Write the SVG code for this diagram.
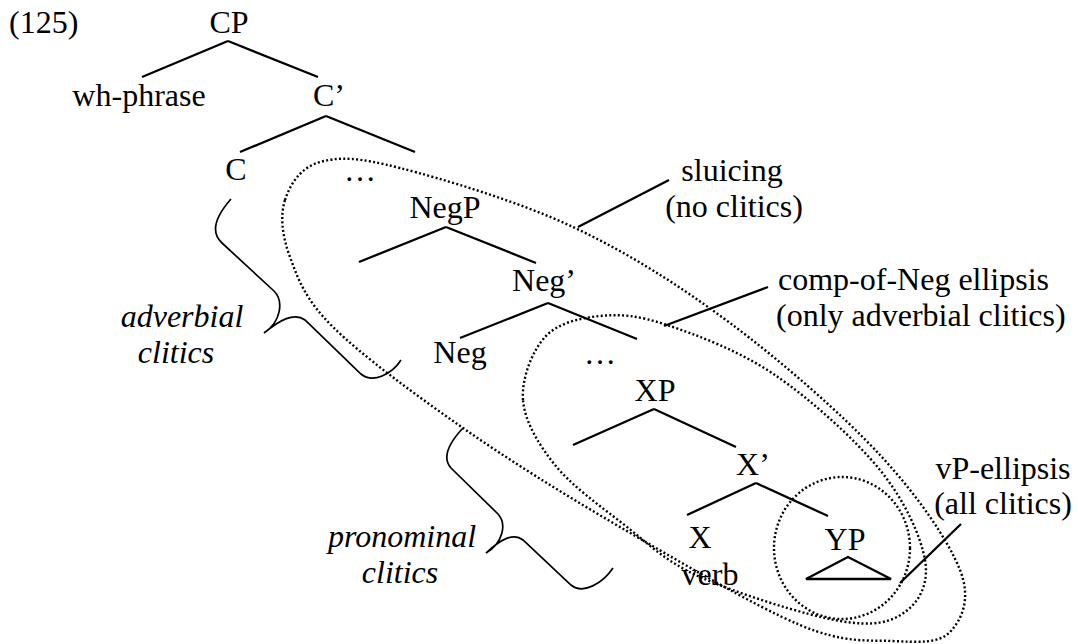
<svg xmlns="http://www.w3.org/2000/svg" width="1078" height="644" viewBox="0 0 1078 644">
<style>
  text { font-family: "Liberation Serif", "Times New Roman", serif; font-size: 32px; fill: #000; }
  .c { text-anchor: middle; }
  .it { font-style: italic; }
  .edge { stroke: #000; stroke-width: 2.3; fill: none; stroke-linecap: butt; }
  .brace { stroke: #000; stroke-width: 1.7; fill: none; }
  .dot { stroke: #000; stroke-width: 2.4; fill: none; stroke-dasharray: 2 2.3; }
</style>
<rect width="1078" height="644" fill="#fff"/>

<g id="label-125"><text x="9" y="33">(125)</text></g>

<g id="connectors">
  <path class="edge" d="M228,41 L142,77 M228,41 L318,77"/>
  <path class="edge" d="M326,116 L240,152 M326,116 L415,152"/>
  <path class="edge" d="M446,227 L359,262 M446,227 L536,263"/>
  <path class="edge" d="M548,303 L460,338 M548,303 L637,339"/>
  <path class="edge" d="M654,409 L573,445 M654,409 L736,447"/>
  <path class="edge" d="M756,483 L687,515 M756,483 L828,516"/>
  <path class="edge" d="M669,180 L578,227"/>
  <path class="edge" d="M768,287 L664,326"/>
  <path class="edge" d="M961,524 L900,583"/>
</g>

<g id="node-CP"><text class="c" x="229" y="33">CP</text></g>
<g id="node-wh"><text class="c" x="139" y="106">wh-phrase</text></g>
<g id="node-Cbar"><text class="c" x="329" y="106">C’</text></g>
<g id="node-C"><text class="c" x="236" y="180">C</text></g>
<g id="node-dots1"><text class="c" x="360" y="181">…</text></g>
<g id="node-NegP"><text class="c" x="445" y="218">NegP</text></g>
<g id="node-Negbar"><text class="c" x="544" y="291">Neg’</text></g>
<g id="node-Neg"><text class="c" x="460" y="363">Neg</text></g>
<g id="node-dots2"><text class="c" x="600" y="364">…</text></g>
<g id="node-XP"><text class="c" x="655" y="401">XP</text></g>
<g id="node-Xbar"><text class="c" x="753" y="475">X’</text></g>
<g id="node-X"><text class="c" x="700" y="548">X</text><text class="c" x="710" y="585">verb</text></g>
<g id="node-YP"><text class="c" x="845" y="550">YP</text>
  <path class="edge" d="M848,557 L806,579 L891,579 Z"/></g>

<g id="label-sluicing"><text class="c" x="732" y="181">sluicing</text><text class="c" x="734" y="217">(no clitics)</text></g>
<g id="label-compneg"><text x="778" y="290">comp-of-Neg ellipsis</text><text x="776" y="326">(only adverbial clitics)</text></g>
<g id="label-vp"><text class="c" x="1003" y="479">vP-ellipsis</text><text class="c" x="1003" y="514">(all clitics)</text></g>
<g id="label-adverbial"><text class="c it" x="182" y="327">adverbial</text><text class="c it" x="176" y="363">clitics</text></g>
<g id="label-pronominal"><text class="c it" x="402" y="547">pronominal</text><text class="c it" x="400" y="583">clitics</text></g>

<g id="braces">
  <path class="brace" d="M231,199 C216,216 210,232 222,243 L274,291 C284,301 281,322 264,333 C280,320 294,312 305,320 L361,374 C373,384 392,374 401,360"/>
  <path class="brace" d="M463,428 C449,443 442,458 451,468 L498,514 C507,524 503,543 486,553 C500,540 513,532 523,540 L571,585 C583,595 603,583 613,568"/>
</g>

<g id="regions">
  <path class="dot" d="M285,200 C290,184.2 300.8,167.3 320,162 C339.2,156.7 357.8,157.2 400,168 C442.2,178.8 518,201.2 573,227 C628,252.8 678.8,285 730,323 C781.2,361 841.7,413.8 880,455 C918.3,496.2 948.3,540.5 960,570 C971.7,599.5 961.2,620.2 950,632 C938.8,643.8 918,642.2 893,641 C868,639.8 845.5,644 800,625 C754.5,606 676.2,559.8 620,527 C563.8,494.2 510.8,461.3 463,428 C415.2,394.7 361.8,355.5 333,327 C304.2,298.5 298,278.2 290,257 C282,235.8 280,215.8 285,200 Z"/>
  <path class="dot" d="M523,400 C521.3,378.7 532.2,351 545,337 C557.8,323 579.7,318 600,316 C620.3,314 637.8,315.2 667,325 C696.2,334.8 739.5,350.8 775,375 C810.5,399.2 855,439.2 880,470 C905,500.8 920.8,536.3 925,560 C929.2,583.7 919.2,601.8 905,612 C890.8,622.2 874.2,626.8 840,621 C805.8,615.2 736.3,593.3 700,577 C663.7,560.7 646.2,541.7 622,523 C597.8,504.3 571.5,485.5 555,465 C538.5,444.5 524.7,421.3 523,400 Z"/>
  <ellipse class="dot" cx="842" cy="548" rx="68" ry="71"/>
</g>
</svg>
